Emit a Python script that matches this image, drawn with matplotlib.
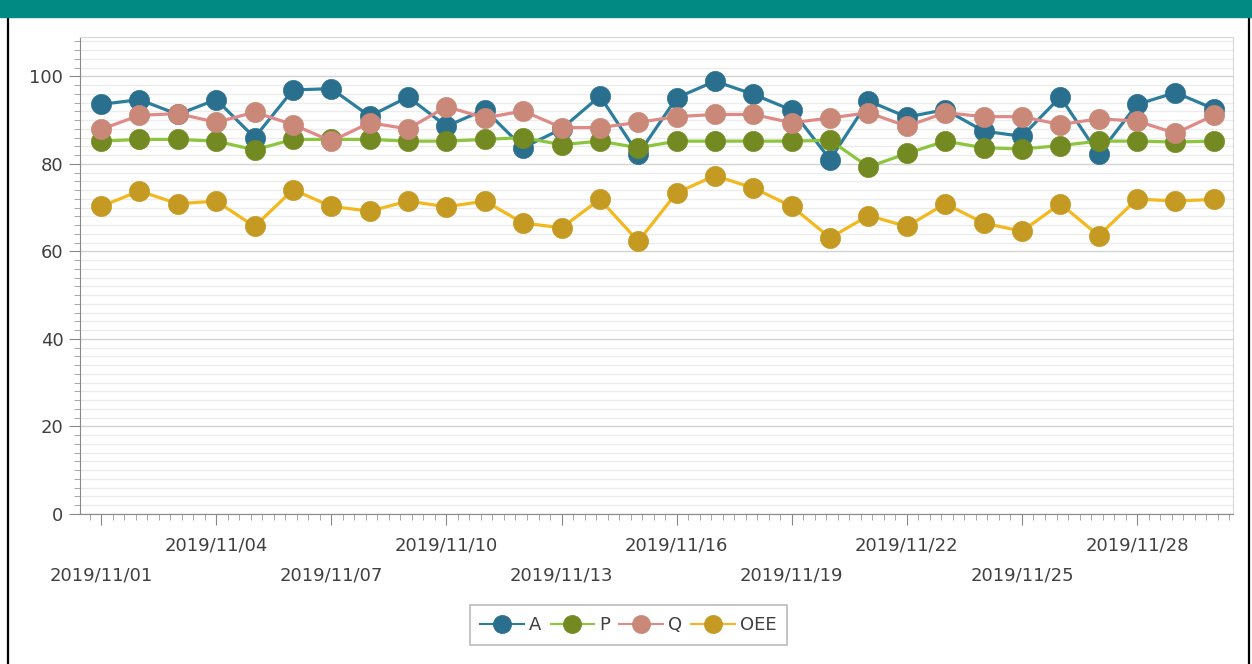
import matplotlib
matplotlib.use('Agg')
import matplotlib.pyplot as plt
from matplotlib.ticker import MultipleLocator, FixedLocator, NullFormatter
from matplotlib.patches import Rectangle
from matplotlib.lines import Line2D

# data, one value per day
dates = ['2019/11/%02d' % d for d in range(1, 31)]
A = [93.6, 94.7, 91.3, 94.7, 86.0, 96.9, 97.2, 90.9, 95.3, 88.6,
     92.4, 83.7, 88.0, 95.5, 82.2, 95.1, 98.9, 95.9, 92.3, 81.0,
     94.4, 90.7, 92.4, 87.5, 86.3, 95.3, 82.2, 93.6, 96.3, 92.6]
P = [85.2, 85.6, 85.6, 85.2, 83.2, 85.6, 85.6, 85.6, 85.2, 85.2,
     85.6, 86.0, 84.4, 85.2, 83.7, 85.2, 85.2, 85.2, 85.2, 85.4,
     79.3, 82.4, 85.2, 83.7, 83.4, 84.2, 85.2, 85.2, 85.0, 85.2]
Q = [87.9, 91.1, 91.5, 89.5, 91.8, 89.0, 85.2, 89.4, 88.0, 93.1,
     90.5, 92.1, 88.3, 88.3, 89.5, 90.8, 91.3, 91.3, 89.4, 90.5,
     91.7, 88.6, 91.7, 90.8, 90.8, 89.0, 90.3, 89.8, 87.0, 91.1]
OEE = [70.3, 73.8, 70.9, 71.5, 65.7, 74.1, 70.3, 69.2, 71.5, 70.2,
       71.5, 66.5, 65.4, 71.9, 62.3, 73.4, 77.3, 74.5, 70.3, 63.1,
       68.2, 65.7, 70.9, 66.5, 64.6, 70.9, 63.6, 72.0, 71.5, 71.9]

series = [('A', A, '#2d7d9d', '#2a6f8e'),
          ('P', P, '#8cc63f', '#738a22'),
          ('Q', Q, '#e08a88', '#c98878'),
          ('OEE', OEE, '#f2b81e', '#c59a22')]

fig = plt.figure(figsize=(12.52, 6.64), dpi=100)
ax = fig.add_axes([80/1252, 1-514/664, (1233-80)/1252, (514-37)/664])

x = list(range(len(dates)))
for name, vals, lc, mc in series:
    ax.plot(x, vals, color=lc, lw=2.3, marker='o', ms=14.5,
            mfc=mc, mec=mc, mew=0.5, label=name)

ax.set_xlim(-0.55, 29.5)
ax.set_ylim(0, 109)

# y axis
ax.yaxis.set_major_locator(MultipleLocator(20))
ax.yaxis.set_minor_locator(MultipleLocator(2))
ax.grid(axis='y', which='major', color='#d2d2d2', lw=1)
ax.grid(axis='y', which='minor', color='#ececec', lw=1)
ax.set_axisbelow(True)
ax.tick_params(axis='y', which='major', length=8, color='#888888',
               labelsize=13, labelcolor='#404040', pad=4)
ax.tick_params(axis='y', which='minor', length=4, color='#999999')

# x axis, labels drawn in two staggered rows
major = list(range(0, 30, 3))
ax.xaxis.set_major_locator(FixedLocator(major))
ax.xaxis.set_minor_locator(MultipleLocator(0.3))
ax.xaxis.set_major_formatter(NullFormatter())
ax.tick_params(axis='x', which='major', length=8, color='#888888')
ax.tick_params(axis='x', which='minor', length=4, color='#999999')
for k, i in enumerate(major):
    off = -61 if k % 2 == 0 else -32
    ax.annotate(dates[i], xy=(i, 0), xycoords=('data', 'axes fraction'),
                xytext=(0, off), textcoords='offset pixels',
                ha='center', va='center', fontsize=13, color='#404040')

ax.spines['left'].set_color('#888888')
ax.spines['bottom'].set_color('#888888')
ax.spines['top'].set_color('#d8d8d8')
ax.spines['right'].set_color('#d8d8d8')

leg = fig.legend(loc='center', bbox_to_anchor=(0.502, 1-625/664), ncol=4,
                 fontsize=13, frameon=True, fancybox=False, handlelength=2.4,
                 handletextpad=0.3, columnspacing=0.5, borderpad=0.6,
                 borderaxespad=0, markerscale=0.9)
leg.get_frame().set_edgecolor('#aaaaaa')
leg.get_frame().set_linewidth(1.2)
for t in leg.get_texts():
    t.set_color('#404040')
for h in leg.legend_handles:
    h.set_linewidth(1.5)

# header bar and frame
fig.add_artist(Rectangle((0, 1-17/664), 1, 17/664, transform=fig.transFigure,
                         color='#008a84', zorder=5))
fig.add_artist(Line2D([8/1252, 8/1252], [0, 1], transform=fig.transFigure,
                      color='black', lw=1.6))
fig.add_artist(Line2D([1249/1252, 1249/1252], [0, 1], transform=fig.transFigure,
                      color='black', lw=1.6))

fig.savefig('out.png', dpi=100)
